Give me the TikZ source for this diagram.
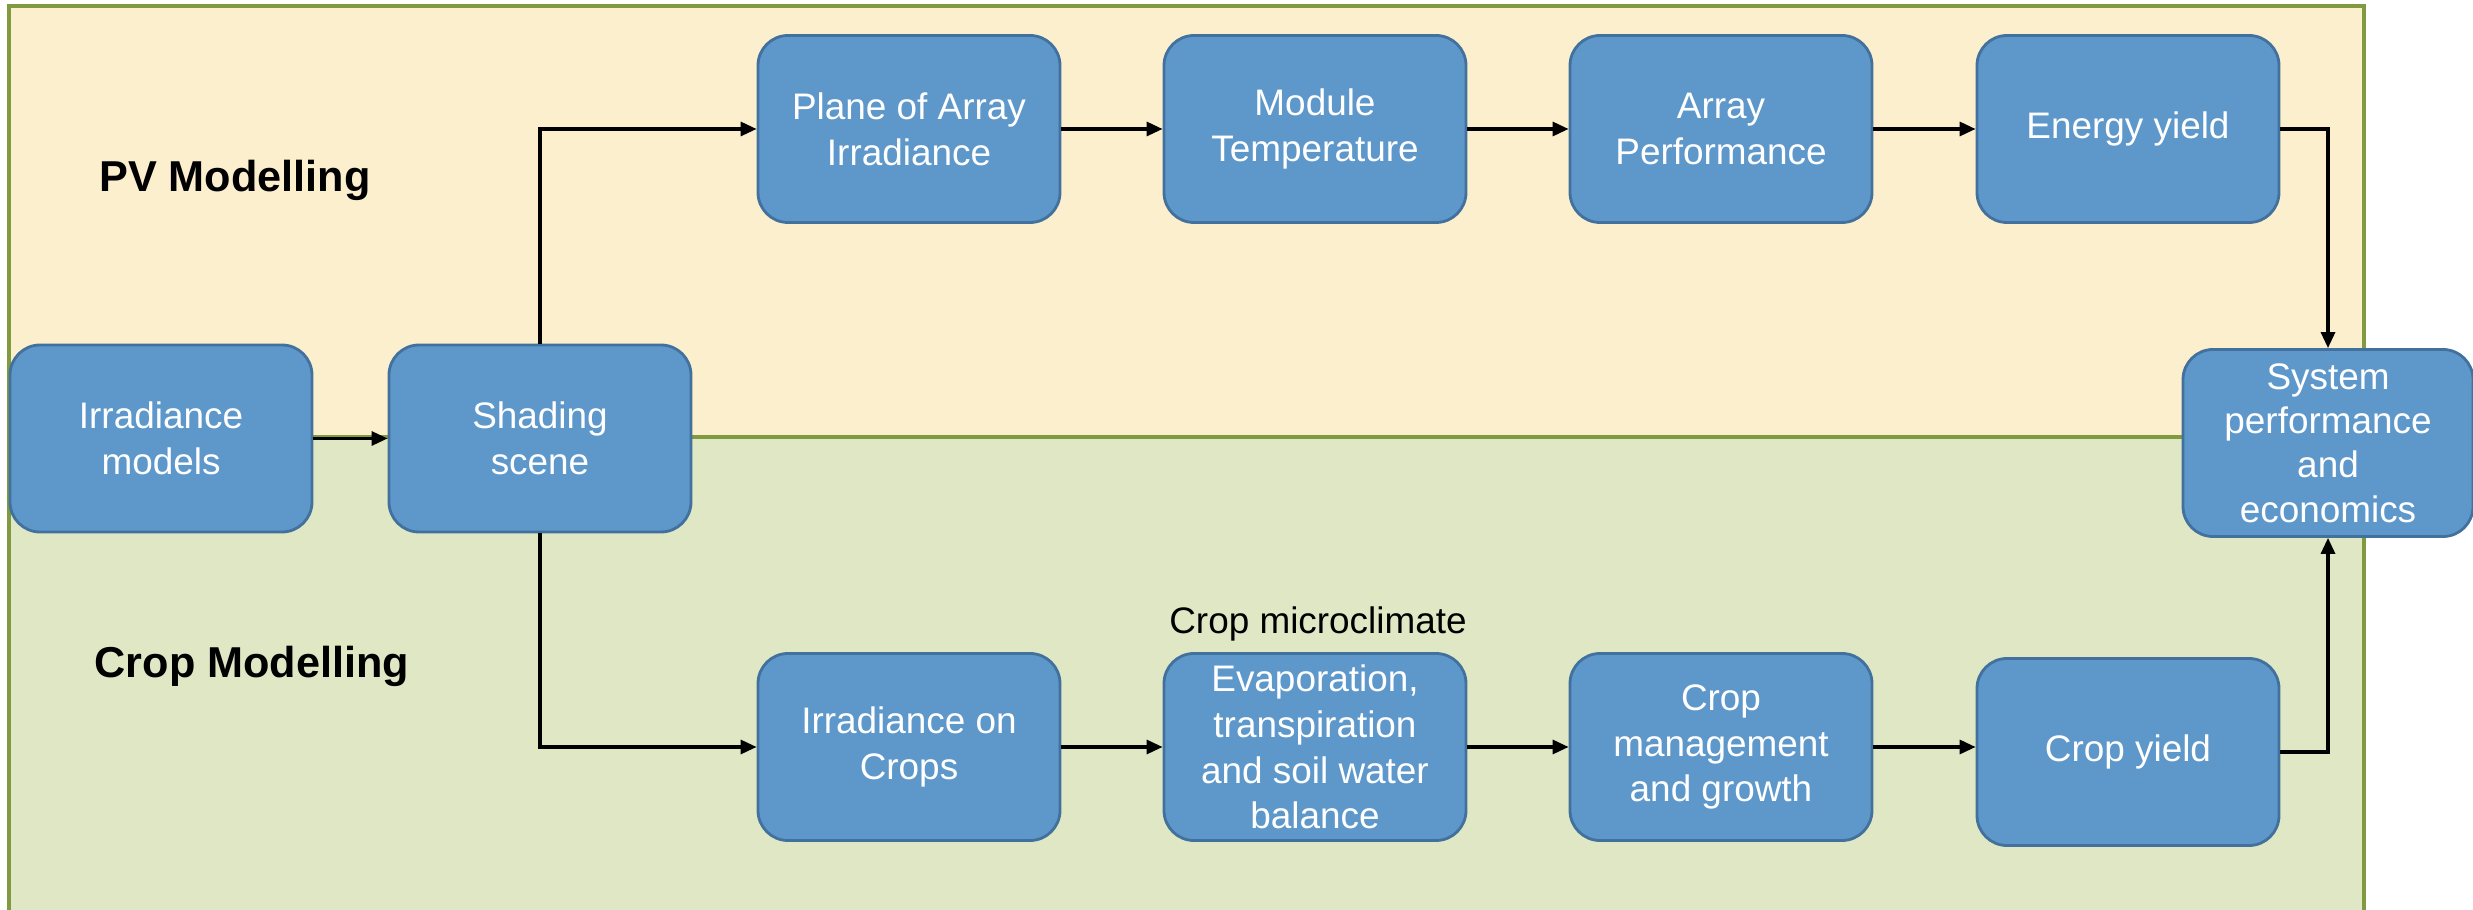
\documentclass[tikz,border=0pt]{standalone}
\usepackage{fontspec}
\setmainfont{Liberation Sans}
\usetikzlibrary{arrows.meta}

\definecolor{boxfill}{HTML}{5E98CB}
\definecolor{boxedge}{HTML}{41719C}
\definecolor{pvback}{HTML}{FCEFCD}
\definecolor{cropback}{HTML}{E0E7C4}
\definecolor{frameline}{HTML}{7F9A3F}

\begin{document}
\begin{tikzpicture}[
        blk/.style = {draw = boxedge, fill = boxfill, line width = 0.8pt, rounded corners = 0.3cm,
            minimum width = 3.02cm, minimum height = 1.87cm, inner sep = 1pt,
            align = center, text = white, font = \fontsize{10.5}{13}\selectfont},
        arr/.style = {-{Triangle[length = 1.6mm, width = 1.4mm]}, line width = 0.9pt},
        frame/.style = {draw = frameline, line width = 0.9pt},
        heading/.style = {font = \fontsize{12.3}{14}\selectfont\bfseries}
    ]
        \useasboundingbox (0, 0) rectangle (24.73, -9.10);
        % two bands
        \fill[pvback] (0.09, -0.06) rectangle (23.64, -4.37);
        \fill[cropback] (0.09, -4.37) rectangle (23.64, -9.10);
        \draw[frame] (0.09, -9.10) -- (0.09, -0.06) -- (23.64, -0.06) -- (23.64, -9.10);
        \draw[frame] (0.09, -4.37) -- (23.64, -4.37);

        \node[heading] (pvhead) at (2.35, -1.80) {PV Modelling};
        \node[heading] (crophead) at (2.52, -6.66) {Crop Modelling};

        \node[blk] (irr) at (1.61, -4.385) {Irradiance\\models};
        \node[blk] (shade) at (5.40, -4.385) {Shading\\scene};

        % PV row
        \node[blk] (poa) at (9.09, -1.29) {Plane of Array\\Irradiance};
        \node[blk] (modt) at (13.15, -1.29) {Module\\Temperature};
        \node[blk] (arrp) at (17.21, -1.29) {Array\\Performance};
        \node[blk] (energy) at (21.28, -1.29) {Energy yield};

        % crop row
        \node[blk] (irrcrop) at (9.09, -7.47) {Irradiance on\\Crops};
        \node[blk] (evap) at (13.15, -7.47) {Evaporation,\\transpiration\\and soil water\\balance};
        \node[blk] (mgmt) at (17.21, -7.47) {Crop\\management\\and growth};
        \node[blk] (cropy) at (21.28, -7.52) {Crop yield};
        \node[font = \fontsize{10.5}{13}\selectfont] (micro) at (13.18, -6.24) {Crop microclimate};

        \node[blk, minimum width = 2.90cm, font = \fontsize{10.5}{12.6}\selectfont] (sys) at (23.28, -4.43) {System\\performance\\and\\economics};

        \draw[arr] (irr) -- (shade);
        \draw[arr] (shade.north) |- (poa.west);
        \draw[arr] (shade.south) |- (irrcrop.west);
        \draw[arr] (poa) -- (modt);
        \draw[arr] (modt) -- (arrp);
        \draw[arr] (arrp) -- (energy);
        \draw[arr] (irrcrop) -- (evap);
        \draw[arr] (evap) -- (mgmt);
        \draw[arr] (mgmt.east) -- (mgmt.east -| cropy.west);
        \draw[arr] (energy.east) -| (sys.north);
        \draw[arr] (cropy.east) -| (sys.south);
    \end{tikzpicture}
\end{document}
